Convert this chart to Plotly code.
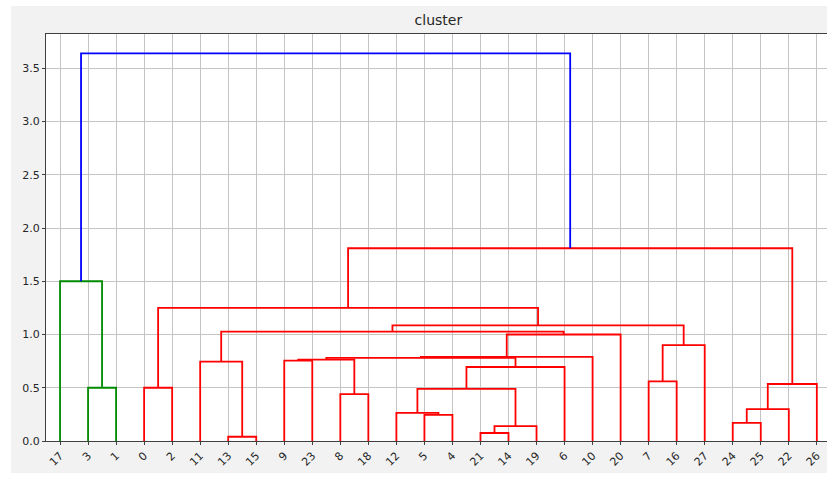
import plotly.graph_objects as go

# ---------------- data ----------------
leaf_labels = ["17", "3", "1", "0", "2", "11", "13", "15", "9", "23", "8", "18", "12", "5",
               "4", "21", "14", "19", "6", "10", "20", "7", "16", "27", "24", "25", "22", "26"]

# merges m0..m26 : (left child, right child, height, group)
merge_left = ["3", "17", "0", "13", "11", "9", "8", "m5", "5", "12", "21", "m10", "m9", "m12",
              "m7", "m14", "m15", "m4", "7", "m18", "m17", "m2", "24", "m22", "m23", "m21", "m1"]
merge_right = ["1", "m0", "2", "15", "m3", "23", "18", "m6", "4", "m8", "14", "19", "m11", "6",
               "m13", "10", "20", "m16", "16", "27", "m19", "m20", "25", "22", "26", "m24", "m25"]
merge_height = [0.50, 1.50, 0.50, 0.04, 0.745, 0.755, 0.44, 0.765, 0.245, 0.265, 0.075, 0.14,
                0.49, 0.695, 0.78, 0.79, 1.00, 1.027, 0.56, 0.90, 1.085, 1.25, 0.17, 0.30,
                0.535, 1.81, 3.64]
merge_group = ["g", "g", "r", "r", "r", "r", "r", "r", "r", "r", "r", "r", "r", "r", "r", "r",
               "r", "r", "r", "r", "r", "r", "r", "r", "r", "r", "b"]

y_ticks = [0.0, 0.5, 1.0, 1.5, 2.0, 2.5, 3.0, 3.5]
title_text = "cluster"

# ---------------- styles ----------------
group_colors = {"g": "#008a00", "r": "#ff0000", "b": "#0000ff"}

# ---------------- build dendrogram coordinates (scipy-like: leaves at 5, 15, 25, ...) -------------
pos = {}
hgt = {}
for i, lab in enumerate(leaf_labels):
    pos[lab] = 5 + 10 * i
    hgt[lab] = 0.0

segs = {k: ([], []) for k in group_colors}
for i, (a, b, h, g) in enumerate(zip(merge_left, merge_right, merge_height, merge_group)):
    xa, xb = pos[a], pos[b]
    xs, ys = segs[g]
    xs += [xa, xa, xb, xb, None]
    ys += [hgt[a], h, h, hgt[b], None]
    name = "m%d" % i
    pos[name] = (xa + xb) / 2
    hgt[name] = h

fig = go.Figure()
for g in ["g", "r", "b"]:
    xs, ys = segs[g]
    fig.add_trace(go.Scatter(x=xs, y=ys, mode="lines",
                             line=dict(color=group_colors[g], width=1.8),
                             showlegend=False, hoverinfo="skip"))

W, H = 827, 477
ml, mr, mt, mb = 46, 0, 34, 36
pw = W - ml - mr
ph = H - mt - mb
px_per_unit = 2.803
x_max = pw / px_per_unit

fig.update_layout(
    width=W, height=H,
    margin=dict(l=ml, r=mr, t=mt, b=mb),
    paper_bgcolor="#f2f2f2",
    plot_bgcolor="#ffffff",
    font=dict(family="DejaVu Sans", size=11, color="#262626"),
    title=dict(text=title_text, x=(ml + (ml + 10 * len(leaf_labels) * px_per_unit)) / 2 / W,
               xanchor="center", y=1 - 20 / H, yanchor="middle",
               font=dict(family="DejaVu Sans", size=14, color="#262626")),
    xaxis=dict(range=[0, x_max], tickmode="array",
               tickvals=[5 + 10 * i for i in range(len(leaf_labels))],
               ticktext=leaf_labels, tickangle=-45,
               showgrid=True, gridcolor="#c4c4c4", gridwidth=1,
               showline=True, linecolor="#404040", linewidth=1, mirror=True,
               ticks="outside", ticklen=3, tickcolor="#404040",
               zeroline=False, tickfont=dict(size=11, color="#262626")),
    yaxis=dict(range=[0, ph / 106.5], tickmode="array", tickvals=y_ticks,
               ticktext=["%.1f" % v for v in y_ticks],
               showgrid=True, gridcolor="#c4c4c4", gridwidth=1,
               showline=True, linecolor="#404040", linewidth=1, mirror=True,
               ticks="outside", ticklen=3, tickcolor="#404040",
               zeroline=False, tickfont=dict(size=11, color="#262626")),
)

# thin white strips around the grey figure background (left, top, bottom)
def px_x(p):
    return (p - ml) / pw

def px_y(p):
    return 1 - (p - mt) / ph

for (x0, y0, x1, y1) in [(0, 0, 11, H), (0, 0, W, 6), (0, 473, W, H)]:
    fig.add_shape(type="rect", xref="paper", yref="paper",
                  x0=px_x(x0), x1=px_x(x1), y0=px_y(y0), y1=px_y(y1),
                  fillcolor="#ffffff", line=dict(width=0), layer="above")

fig.write_html("out.html")
